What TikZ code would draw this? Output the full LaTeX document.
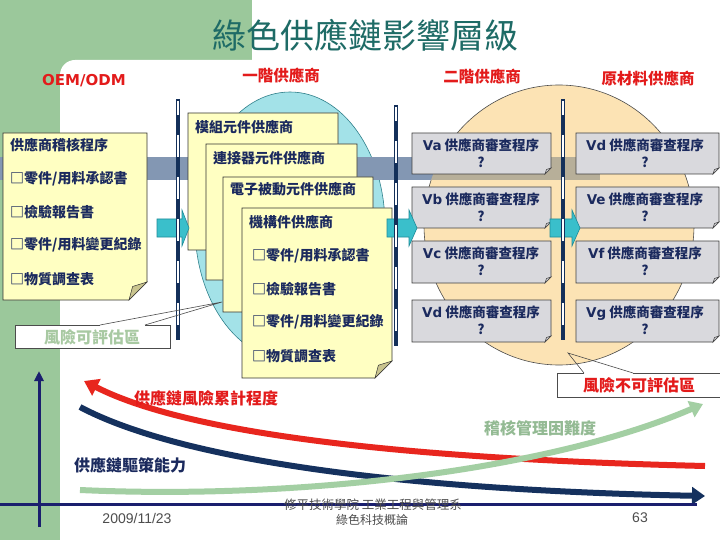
\documentclass[tikz,border=0pt]{standalone}
\usepackage{fontspec}
\setmainfont{Noto Sans CJK TC}
\newfontfamily\dvs{DejaVu Sans}
\newfontfamily\lbs{Liberation Sans}
\usetikzlibrary{arrows.meta}
\definecolor{bggreen}{HTML}{9BC89B}
\definecolor{titlec}{HTML}{1E6B66}
\definecolor{redc}{HTML}{E31B1B}
\definecolor{navyt}{HTML}{1B2A5E}
\definecolor{cyanE}{HTML}{A3E2E8}
\definecolor{cyanB}{HTML}{2E7F8A}
\definecolor{beigeE}{HTML}{FCE3B4}
\definecolor{bandc}{HTML}{8397B3}
\definecolor{tanc}{HTML}{B7AF99}
\definecolor{notef}{HTML}{FFFFC2}
\definecolor{foldc}{HTML}{C9C48E}
\definecolor{grayb}{HTML}{D9D9DD}
\definecolor{arrf}{HTML}{3ABFCB}
\definecolor{arrb}{HTML}{1F8C99}
\definecolor{cred}{HTML}{E8261E}
\definecolor{cnavy}{HTML}{15315E}
\definecolor{cgreen}{HTML}{A3CFA3}
\definecolor{axisc}{HTML}{1A1F6E}
\definecolor{vnavy}{HTML}{14305A}
\definecolor{lgtext}{HTML}{A8C9A2}
\definecolor{foot}{HTML}{4D4D4D}
\newcommand\mkNote[5]{%
  \filldraw[notest] (#1,#2) -- (#3,#2) -- (#3,#4-#5) -- (#3-#5,#4) -- (#1,#4) -- cycle;
  \filldraw[foldst] (#3,#4-#5) -- (#3-#5,#4) -- (#3-0.8*#5,#4-0.75*#5) -- cycle;}
\newcommand\mkBox[4]{%
  \filldraw[boxst] (#1,#2) -- (#3,#2) -- (#3,#4-6) -- (#3-6,#4) -- (#1,#4) -- cycle;
  \filldraw[boxst] (#3,#4-6) -- (#3-6,#4) -- (#3-4.5,#4-4.5) -- cycle;}
\newcommand\mkArrow[3]{%
  \filldraw[arrst] (#1,219) -- (#3,219) -- (#3,210) -- (#2,228) -- (#3,246) -- (#3,237) -- (#1,237) -- cycle;}
\tikzset{
  notest/.style={fill=notef, draw=black!80, line width=0.6pt},
  foldst/.style={fill=foldc, draw=black!80, line width=0.5pt},
  boxst/.style={fill=grayb, draw=black!75, line width=0.6pt},
  arrst/.style={fill=arrf, draw=arrb, line width=0.6pt},
  ntxt/.style={anchor=west, inner sep=0pt, text=navyt, font=\fontsize{14}{16}\selectfont\bfseries},
  btxt/.style={inner sep=0pt, text=navyt, align=center, font=\fontsize{13.5}{16.5}\selectfont\bfseries},
  rlab/.style={inner sep=0pt, text=redc, font=\fontsize{15.5}{18}\selectfont\bfseries},
  clab/.style={inner sep=0pt, font=\fontsize{16}{18}\selectfont\bfseries},
  curvest/.style={line width=6pt},
  axisst/.style={draw=axisc, line width=3pt},
  callst/.style={draw=black!70, line width=0.6pt},
}
\begin{document}
\begin{tikzpicture}[x=1pt,y=-1pt]
\useasboundingbox (0,0) rectangle (720,540);
% background
\fill[bggreen] (0,0) rectangle (720,540);
\fill[white] (60,540) -- (60,75) arc[start angle=180,end angle=90,radius=15pt] -- (252,60) -- (252,0) -- (720,0) -- (720,540) -- cycle;
% title
\node[inner sep=0pt, text=titlec, font=\fontsize{34}{40}\selectfont] (title) at (365,35) {綠色供應鏈影響層級};
% column labels
\node[inner sep=0pt, text=redc, font=\dvs\fontsize{15}{18}\selectfont\bfseries] (oem) at (84,81) {OEM/ODM};
\node[rlab] (t1) at (281,76) {一階供應商};
\node[rlab] (t2) at (482,77) {二階供應商};
\node[rlab] (t3) at (648,79) {原材料供應商};
% ellipses
\filldraw[fill=cyanE, draw=cyanB, line width=0.6pt] (290,226) ellipse [x radius=95pt, y radius=134pt];
\filldraw[fill=beigeE, draw=black!70, line width=0.6pt] (559,225) ellipse [x radius=135pt, y radius=140pt];
% band
\fill[bandc] (0,157) rectangle (600,180);
\begin{scope}
  \clip (559,225) ellipse [x radius=135pt, y radius=140pt];
  \fill[tanc] (0,157) rectangle (600,180);
\end{scope}
% left note
\mkNote{3}{133}{147}{300}{18}
\node[ntxt] (l0) at (10,145) {供應商稽核程序};
\node[ntxt] (l1) at (10,179) {□零件/用料承認書};
\node[ntxt] (l2) at (10,212) {□檢驗報告書};
\node[ntxt] (l3) at (10,245) {□零件/用料變更紀錄};
\node[ntxt] (l4) at (10,279) {□物質調查表};
% stacked notes
\mkNote{188}{113}{338}{250}{16}
\node[ntxt] (n1) at (195,127) {模組元件供應商};
\mkNote{206}{144}{357}{280}{16}
\node[ntxt] (n2) at (213,158) {連接器元件供應商};
\mkNote{223}{177}{373}{312}{16}
\node[ntxt] (n3) at (230,189) {電子被動元件供應商};
\mkNote{242}{208}{392}{378}{17}
\node[ntxt] (n4) at (249,222) {機構件供應商};
\node[ntxt] (n41) at (252,256) {□零件/用料承認書};
\node[ntxt] (n42) at (252,289) {□檢驗報告書};
\node[ntxt] (n43) at (252,322) {□零件/用料變更紀錄};
\node[ntxt] (n44) at (252,356) {□物質調查表};
% gray boxes
\mkBox{412}{133}{551}{174}
\mkBox{576}{133}{719}{174}
\mkBox{412}{187}{551}{228}
\mkBox{576}{187}{719}{228}
\mkBox{412}{241}{551}{283}
\mkBox{576}{241}{719}{283}
\mkBox{412}{300}{551}{342}
\mkBox{576}{300}{719}{342}
\node[btxt] (va) at (481,153) {{\dvs Va} 供應商審查程序\\?};
\node[btxt] (vd1) at (645,153) {{\dvs Vd} 供應商審查程序\\?};
\node[btxt] (vb) at (481,207) {{\dvs Vb} 供應商審查程序\\?};
\node[btxt] (ve) at (645,207) {{\dvs Ve} 供應商審查程序\\?};
\node[btxt] (vc) at (481,261) {{\dvs Vc} 供應商審查程序\\?};
\node[btxt] (vf) at (645,261) {{\dvs Vf} 供應商審查程序\\?};
\node[btxt] (vd2) at (481,320) {{\dvs Vd} 供應商審查程序\\?};
\node[btxt] (vg) at (645,320) {{\dvs Vg} 供應商審查程序\\?};
% block arrows
\mkArrow{157}{189}{182}
\mkArrow{387}{417}{409}
\mkArrow{550}{580}{572}
% vertical double lines
\foreach \x/\a/\b in {178/99/340, 396/105/346, 563/99/340}{
  \draw[vnavy, line width=4pt] (\x,\a) -- (\x,\b);
  \draw[white, line width=1.6pt, dash pattern=on 22pt off 20pt, dash phase=8pt] (\x,\a+2) -- (\x,\b-2);
}
% callout left
\fill[white] (15,325) rectangle (170,348);
\draw[callst] (100,325) -- (15,325) -- (15,348) -- (170,348) -- (170,325) -- (145,325);
\draw[callst] (100,325) -- (222,302) -- (145,325);
\node[clab, text=lgtext] (rk1) at (92,337) {風險可評估區};
% callout right
\fill[white] (557,373) rectangle (722,397);
\draw[callst] (584,373) -- (557,373) -- (557,397) -- (722,397);
\draw[callst] (633,373) -- (722,373);
\draw[callst] (584,373) -- (568,353) -- (633,373);
\node[clab, text=redc] (rk2) at (639,385) {風險不可評估區};
% curves
\draw[curvest, cnavy, -{Triangle[length=13pt,width=17pt]}] (80,407) .. controls (180,460) and (400,490) .. (705,496);
\draw[curvest, cred, -{Triangle[length=14pt,width=18pt]}] (705,466) .. controls (450,460) and (200,440) .. (84,381);
\draw[curvest, cgreen, -{Triangle[length=13pt,width=17pt]}] (80,490) .. controls (300,500) and (550,470) .. (703,404);
% axes
\draw[axisst, -{Triangle[length=10pt,width=9pt]}] (39,527) -- (39,371);
\draw[axisst] (0,504) -- (697,504);
% curve labels
\node[clab, text=redc] (c1) at (206,398) {供應鏈風險累計程度};
\node[clab, text=cgreen!90!black] (c2) at (540,428) {稽核管理困難度};
\node[clab, text=navyt] (c3) at (130,465) {供應鏈驅策能力};
% footer
\node[inner sep=0pt, text=foot, font=\lbs\fontsize{14}{16}\selectfont] (date) at (137,518) {2009/11/23};
\node[inner sep=0pt, text=foot, font=\fontsize{12.5}{14}\selectfont] (sch) at (373,505) {修平技術學院 工業工程與管理系};
\node[inner sep=0pt, text=foot, font=\fontsize{12}{14}\selectfont] (crs) at (372,520) {綠色科技概論};
\node[inner sep=0pt, text=foot, font=\lbs\fontsize{14}{16}\selectfont] (pg) at (640,518) {63};
\end{tikzpicture}
\end{document}
